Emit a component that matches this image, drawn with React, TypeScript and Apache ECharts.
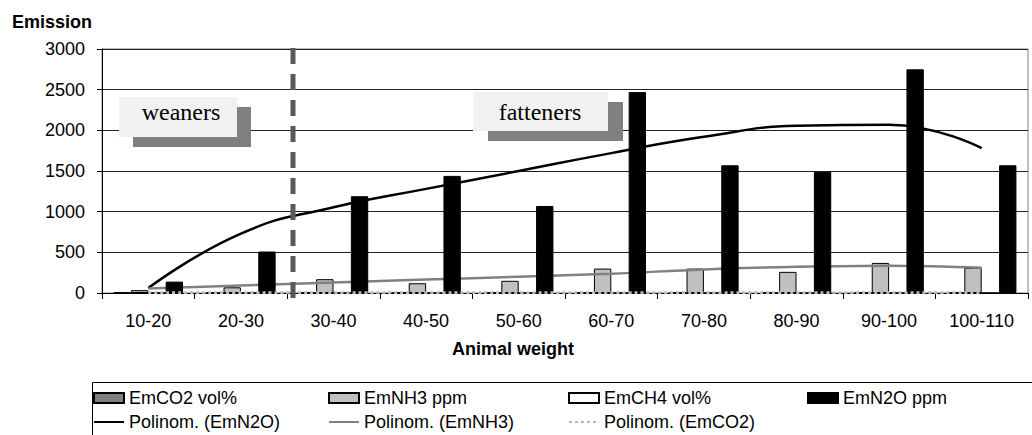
import React, { useEffect, useRef } from "react";
import * as echarts from "echarts";

const categories = ["10-20", "20-30", "30-40", "40-50", "50-60", "60-70", "70-80", "80-90", "90-100", "100-110"];
const emCO2 = [8, 6, 6, 5, 5, 6, 6, 5, 6, 5];
const emNH3 = [35, 70, 170, 120, 150, 300, 300, 260, 370, 310];
const emCH4 = [1, 1, 1, 1, 1, 1, 1, 1, 1, 1];
const emN2O = [140, 510, 1190, 1440, 1070, 2470, 1570, 1490, 2750, 1570];
const trendN2O = [60, 730, 1055, 1280, 1500, 1720, 1920, 2055, 2070, 1780];
const trendNH3 = [55, 92, 128, 165, 200, 237, 290, 322, 336, 311];
const trendCO2 = [4, 4, 4, 4, 4, 4, 4, 4, 4, 4];
const yTicks = { min: 0, max: 3000, interval: 500 };

const FONT = "Liberation Sans";
const SERIF = "Liberation Serif";

export default function App() {
  const ref = useRef<HTMLDivElement>(null);
  useEffect(() => {
    if (!ref.current) return;
    const chart = echarts.init(ref.current, undefined, { renderer: "svg" });
    const legendBase = {
      padding: 0,
      itemWidth: 30,
      itemHeight: 10,
      itemGap: 0,
      selectedMode: false,
      textStyle: { fontSize: 18, fontFamily: FONT, color: "#000" },
    };
    const lineLegend = { ...legendBase, itemStyle: { opacity: 0 } };
    const barBorder = { borderColor: "#000", borderWidth: 1 };
    const option: any = {
      animation: false,
      textStyle: { fontFamily: FONT },
      grid: {
        left: 102,
        right: 4,
        top: 49,
        bottom: 142,
        show: true,
        borderColor: "#808080",
        borderWidth: 1,
        containLabel: false,
      },
      legend: [
        { ...legendBase, left: 93, top: 389, data: [{ name: "EmCO2 vol%", icon: "rect" }] },
        { ...legendBase, left: 328, top: 389, data: [{ name: "EmNH3 ppm", icon: "rect" }] },
        { ...legendBase, left: 568, top: 389, data: [{ name: "EmCH4 vol%", icon: "rect" }] },
        { ...legendBase, left: 807, top: 389, data: [{ name: "EmN2O ppm", icon: "rect" }] },
        { ...lineLegend, left: 93, top: 413, data: ["Polinom. (EmN2O)"] },
        { ...lineLegend, left: 328, top: 413, data: ["Polinom. (EmNH3)"] },
        { ...lineLegend, left: 568, top: 413, data: ["Polinom. (EmCO2)"] },
      ],
      xAxis: {
        type: "category",
        data: categories,
        boundaryGap: true,
        axisLine: { show: true, lineStyle: { color: "#000", width: 1 } },
        axisTick: { show: true, length: 6, alignWithLabel: false, lineStyle: { color: "#000" } },
        axisLabel: { margin: 19, fontSize: 18, color: "#000", fontFamily: FONT },
        splitLine: { show: false },
      },
      yAxis: {
        type: "value",
        min: yTicks.min,
        max: yTicks.max,
        interval: yTicks.interval,
        axisLine: { show: true, lineStyle: { color: "#000", width: 1 } },
        axisTick: { show: true, length: 5, lineStyle: { color: "#000" } },
        axisLabel: {
          margin: 17,
          fontSize: 18,
          color: "#000",
          fontFamily: FONT,
          formatter: (v: number) => String(v),
        },
        splitLine: { show: true, lineStyle: { color: "#222", width: 1 } },
      },
      series: [
        {
          name: "EmCO2 vol%",
          type: "bar",
          data: emCO2,
          barGap: "0%",
          barCategoryGap: "25%",
          itemStyle: { color: "#808080", ...barBorder },
          z: 2,
        },
        {
          name: "EmNH3 ppm",
          type: "bar",
          data: emNH3,
          barGap: "0%",
          barCategoryGap: "25%",
          itemStyle: { color: "#c0c0c0", ...barBorder },
          z: 2,
        },
        {
          name: "EmCH4 vol%",
          type: "bar",
          data: emCH4,
          barGap: "0%",
          barCategoryGap: "25%",
          itemStyle: { color: "#ffffff", ...barBorder },
          z: 2,
        },
        {
          name: "EmN2O ppm",
          type: "bar",
          data: emN2O,
          barGap: "0%",
          barCategoryGap: "25%",
          itemStyle: { color: "#000000", borderColor: "#000", borderWidth: 1 },
          z: 4,
        },
        {
          name: "Polinom. (EmN2O)",
          type: "line",
          data: trendN2O,
          smooth: 0.5,
          symbol: "none",
          lineStyle: { color: "#000", width: 2.5 },
          itemStyle: { color: "#000" },
          z: 3,
        },
        {
          name: "Polinom. (EmNH3)",
          type: "line",
          data: trendNH3,
          smooth: 0.4,
          symbol: "none",
          lineStyle: { color: "#808080", width: 2.5 },
          itemStyle: { color: "#808080" },
          z: 3,
        },
        {
          name: "Polinom. (EmCO2)",
          type: "line",
          data: trendCO2,
          smooth: true,
          symbol: "none",
          lineStyle: { color: "#b8b8b8", width: 3, type: [3, 3] },
          itemStyle: { color: "#b8b8b8" },
          z: 5,
        },
      ],
      graphic: [
        {
          type: "rect",
          z: 100,
          shape: { x: 92.5, y: 382.5, width: 960, height: 80 },
          style: { fill: "none", stroke: "#000", lineWidth: 1 },
        },
        {
          type: "rect",
          z: 100,
          shape: { x: 133, y: 107, width: 118, height: 40 },
          style: { fill: "#808080" },
        },
        {
          type: "rect",
          z: 101,
          shape: { x: 119, y: 97, width: 118, height: 40 },
          style: { fill: "#f2f2f2" },
        },
        {
          type: "text",
          z: 102,
          x: 181,
          y: 112,
          style: {
            text: "weaners",
            fontSize: 24,
            fontFamily: SERIF,
            fill: "#000",
            align: "center",
            verticalAlign: "middle",
          },
        },
        {
          type: "rect",
          z: 100,
          shape: { x: 488, y: 102, width: 135, height: 39 },
          style: { fill: "#808080" },
        },
        {
          type: "rect",
          z: 101,
          shape: { x: 473, y: 92, width: 135, height: 39 },
          style: { fill: "#f2f2f2" },
        },
        {
          type: "text",
          z: 102,
          x: 540,
          y: 112,
          style: {
            text: "fatteners",
            fontSize: 24,
            fontFamily: SERIF,
            fill: "#000",
            align: "center",
            verticalAlign: "middle",
          },
        },
        {
          type: "line",
          z: 103,
          shape: { x1: 293, y1: 48, x2: 293, y2: 300 },
          style: { stroke: "#595959", lineWidth: 5, lineDash: [16, 10] },
        },
        {
          type: "text",
          z: 102,
          x: 12,
          y: 22,
          style: {
            text: "Emission",
            fontSize: 18,
            fontWeight: "bold",
            fontFamily: FONT,
            fill: "#000",
            align: "left",
            verticalAlign: "middle",
          },
        },
        {
          type: "text",
          z: 102,
          x: 513,
          y: 349,
          style: {
            text: "Animal weight",
            fontSize: 18,
            fontWeight: "bold",
            fontFamily: FONT,
            fill: "#000",
            align: "center",
            verticalAlign: "middle",
          },
        },
      ],
    };
    chart.setOption(option);
    return () => chart.dispose();
  }, []);
  return (
    <div
      ref={ref}
      style={{ position: "absolute", left: 0, top: 0, width: 1032, height: 435, background: "#fff" }}
    />
  );
}
